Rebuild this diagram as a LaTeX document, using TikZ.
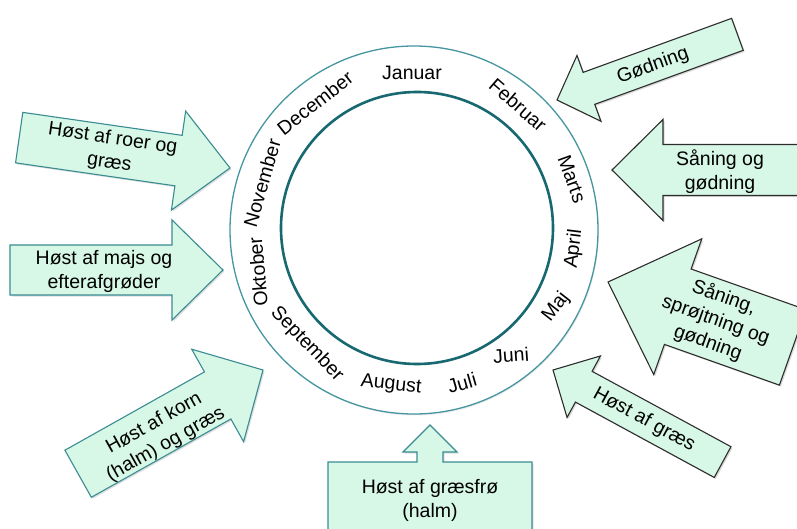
\documentclass[tikz,border=0pt]{standalone}
\usepackage{fontspec}
\setmainfont{Liberation Sans}
\usetikzlibrary{shadows}

\definecolor{mint}{RGB}{215,247,231}
\definecolor{tealline}{RGB}{58,140,146}
\definecolor{darkline}{RGB}{45,45,45}
\definecolor{ringouter}{RGB}{70,150,160}
\definecolor{ringinner}{RGB}{24,104,114}

\newcommand{\wheelfont}{\fontsize{19.5}{24}\selectfont}

% block arrow: style, tip, angle, length, half shaft, half head, head length
\newcommand{\blockarrow}[7]{%
  \begin{scope}[shift={(#2)}, rotate=#3]
    \draw[#1] (0,0) -- (-#7,#6) -- (-#7,#5) -- (-#4,#5) -- (-#4,-#5) -- (-#7,-#5) -- (-#7,-#6) -- cycle;
  \end{scope}}

\tikzset{
  month/.style={inner sep=0pt, font=\wheelfont},
  arrowtext/.style={inner sep=0pt, align=center, font=\wheelfont},
  harvest/.style={draw=tealline, fill=mint, line width=1.1pt, line join=miter,
    drop shadow={shadow xshift=1.5pt, shadow yshift=-1.5pt, opacity=.25}},
  care/.style={draw=darkline, fill=mint, line width=1.1pt, line join=miter,
    drop shadow={shadow xshift=1.5pt, shadow yshift=-1.5pt, opacity=.3}}
}

\begin{document}
\begin{tikzpicture}[x=1pt, y=-1pt]
	\useasboundingbox (0,0) rectangle (797,529);
	\clip (0,0) rectangle (797,529);

	% Wheel
	\node[circle, draw=ringouter, line width=1.3pt, minimum size=368pt, inner sep=0pt,
	  drop shadow={shadow xshift=1pt, shadow yshift=-1.5pt, opacity=.15}, fill=white] (wheel) at (414,230) {};
	\node[circle, draw=ringinner, line width=2.6pt, minimum size=272pt, inner sep=0pt] (hub) at (417,228) {};

	% Months
	\node[month] (jan) at (412,73) {Januar};
	\node[month, rotate=-41] (feb) at (518,105) {Februar};
	\node[month, rotate=-70] (mar) at (572,179) {Marts};
	\node[month, rotate=83] (apr) at (574,249) {April};
	\node[month, rotate=52] (maj) at (556,307) {Maj};
	\node[month, rotate=4] (jun) at (511,355) {Juni};
	\node[month, rotate=16] (jul) at (462,383) {Juli};
	\node[month, rotate=-6] (aug) at (391,385) {August};
	\node[month, rotate=-46] (sep) at (307,344) {September};
	\node[month, rotate=95] (okt) at (258,272) {Oktober};
	\node[month, rotate=74] (nov) at (262,183) {November};
	\node[month, rotate=38] (dec) at (315,103) {December};

	% Harvest arrows (left and bottom)
	\blockarrow{harvest}{230,168}{-8.2}{213}{25.5}{50}{52}
	\blockarrow{harvest}{223,270}{0}{213}{25}{50}{51}
	\blockarrow{harvest}{263,370}{29.3}{212}{27}{53}{52}
	\draw[harvest] (430,425) -- (457,452) -- (443,452) -- (443,462) -- (532,462) -- (532,545)
	  -- (328,545) -- (328,462) -- (417,462) -- (417,452) -- (403,452) -- cycle;

	% Sowing and fertilising arrows (right)
	\blockarrow{care}{557,100}{200}{192}{17}{35}{34}
	\blockarrow{care}{612,170}{180}{205}{25.5}{50.5}{51}
	\blockarrow{care}{608,282}{160.5}{196}{40}{72}{74}
	\blockarrow{care}{553,370}{151.5}{193}{17.5}{35}{35}

	% Arrow texts
	\node[arrowtext, rotate=-8.2] (roer) at (111,151) {Høst af roer og\\græs};
	\node[arrowtext] (majs) at (104,271) {Høst af majs og\\efterafgrøder};
	\node[arrowtext, rotate=29.3] (korn) at (160,434) {Høst af korn\\(halm) og græs};
	\node[arrowtext] (frø) at (430,500) {Høst af græsfrø\\(halm)};
	\node[arrowtext, rotate=20] (goed) at (653,66) {Gødning};
	\node[arrowtext] (saa) at (720,172) {Såning og\\gødning};
	\node[arrowtext, rotate=-19.5] (sproejt) at (716,320) {Såning,\\sprøjtning og\\gødning};
	\node[arrowtext, rotate=-28.5] (graes) at (644,420) {Høst af græs};
\end{tikzpicture}
\end{document}
